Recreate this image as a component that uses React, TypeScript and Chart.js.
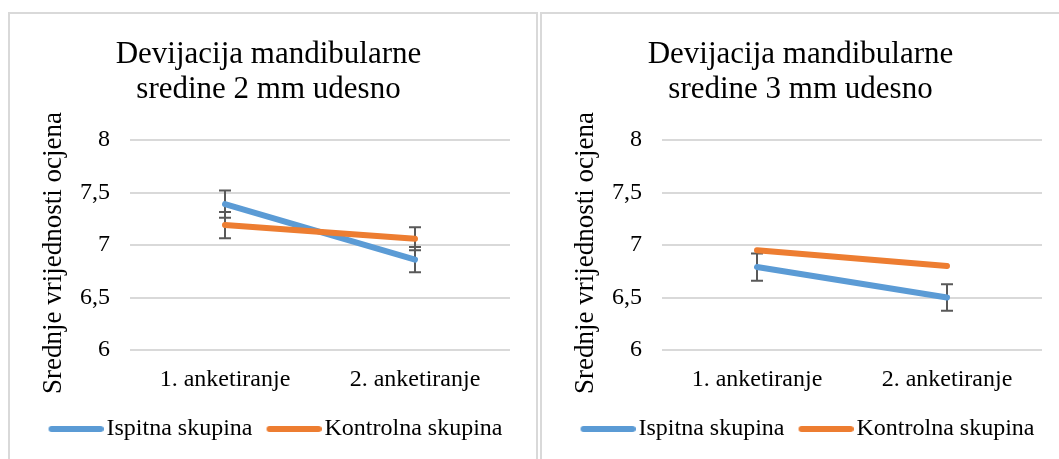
import React, { useEffect, useRef } from 'react';
import { Chart, registerables } from 'chart.js';

Chart.register(...registerables);

const categories = ['1. anketiranje', '2. anketiranje'];
const seriesNames = ['Ispitna skupina', 'Kontrolna skupina'];
const seriesColors = ['#5B9BD5', '#ED7D31'];
const yTickLabels = ['6', '6,5', '7', '7,5', '8'];
const yAxisTitle = 'Srednje vrijednosti ocjena';

const chart1Title = ['Devijacija mandibularne', 'sredine 2 mm udesno'];
const chart1Ispitna = [7.39, 6.86];
const chart1Kontrolna = [7.19, 7.06];
const chart1IspitnaErr = [0.13, 0.12];
const chart1KontrolnaErr = [0.125, 0.11];

const chart2Title = ['Devijacija mandibularne', 'sredine 3 mm udesno'];
const chart2Ispitna = [6.79, 6.5];
const chart2Kontrolna = [6.95, 6.8];
const chart2IspitnaErr = [0.13, 0.127];
const chart2KontrolnaErr = [0, 0];

const FONT = "'Liberation Serif', 'Times New Roman', serif";
const CANVAS_W = 526;
const CANVAS_H = 447;
const LEGEND_BOX = 60;

const errorBarPlugin = {
  id: 'errorBars',
  beforeDatasetsDraw(chart: any) {
    const { ctx } = chart;
    const yScale = chart.scales.y;
    chart.data.datasets.forEach((ds: any, di: number) => {
      const errs: number[] | undefined = ds.errorBars;
      if (!errs) return;
      const meta = chart.getDatasetMeta(di);
      meta.data.forEach((pt: any, i: number) => {
        const e = errs[i];
        const v = ds.data[i];
        if (!e) return;
        const x = pt.x;
        const yT = yScale.getPixelForValue(v + e);
        const yB = yScale.getPixelForValue(v - e);
        ctx.save();
        ctx.strokeStyle = '#595959';
        ctx.lineWidth = 2;
        ctx.beginPath();
        ctx.moveTo(x, yT);
        ctx.lineTo(x, yB);
        ctx.moveTo(x - 6, yT);
        ctx.lineTo(x + 6, yT);
        ctx.moveTo(x - 6, yB);
        ctx.lineTo(x + 6, yB);
        ctx.stroke();
        ctx.restore();
      });
    });
  },
};

// moves the (centred) y-axis title slightly lower, as in the original
const yTitleShiftPlugin = {
  id: 'yTitleShift',
  afterLayout(chart: any) {
    const s = chart.scales.y;
    s.top += 8;
    s.bottom += 8;
  },
};

// legend symbol: a thick round-capped line that ends just before the label text
function makeLegendLine(color: string) {
  const c = document.createElement('canvas');
  c.width = LEGEND_BOX + 18;
  c.height = 8;
  const g = c.getContext('2d')!;
  g.strokeStyle = color;
  g.lineWidth = 6;
  g.lineCap = 'round';
  g.beginPath();
  g.moveTo(LEGEND_BOX + 15 - 49, 4);
  g.lineTo(LEGEND_BOX + 15, 4);
  g.stroke();
  return c;
}

function LineChart(props: {
  title: string[];
  ispitna: number[];
  kontrolna: number[];
  ispitnaErr: number[];
  kontrolnaErr: number[];
}) {
  const ref = useRef<HTMLCanvasElement>(null);
  useEffect(() => {
    if (!ref.current) return;
    const legendImgs = seriesColors.map((c) => makeLegendLine(c));
    const chart = new Chart(ref.current, {
      type: 'line',
      data: {
        labels: categories,
        datasets: [
          {
            label: seriesNames[0],
            data: props.ispitna,
            errorBars: props.ispitnaErr,
            borderColor: seriesColors[0],
            backgroundColor: seriesColors[0],
            borderWidth: 6,
            borderCapStyle: 'round',
            pointRadius: 0,
            pointHoverRadius: 0,
            fill: false,
            tension: 0,
            order: 1,
          } as any,
          {
            label: seriesNames[1],
            data: props.kontrolna,
            errorBars: props.kontrolnaErr,
            borderColor: seriesColors[1],
            backgroundColor: seriesColors[1],
            borderWidth: 6,
            borderCapStyle: 'round',
            pointRadius: 0,
            pointHoverRadius: 0,
            fill: false,
            tension: 0,
            order: 0,
          } as any,
        ],
      },
      options: {
        animation: false,
        responsive: false,
        devicePixelRatio: 1,
        events: [],
        layout: { padding: { left: 0, right: 9, top: 0, bottom: 10 } },
        plugins: {
          title: {
            display: true,
            text: props.title,
            color: '#000',
            font: { family: FONT, size: 31, weight: 'normal', lineHeight: 35 / 31 },
            padding: { top: 23, bottom: 33 },
          },
          legend: {
            display: true,
            position: 'bottom',
            align: 'center',
            labels: {
              usePointStyle: true,
              pointStyleWidth: LEGEND_BOX,
              boxWidth: LEGEND_BOX,
              boxHeight: 8,
              padding: 0,
              color: '#000',
              font: { family: FONT, size: 24 },
              generateLabels: (ch: any) =>
                ch.data.datasets.map((ds: any, i: number) => ({
                  text: ds.label,
                  pointStyle: legendImgs[i],
                  fillStyle: ds.borderColor,
                  strokeStyle: ds.borderColor,
                  lineWidth: 0,
                  hidden: false,
                  datasetIndex: i,
                })),
            },
          },
          tooltip: { enabled: false },
        },
        scales: {
          x: {
            type: 'category',
            offset: true,
            grid: { display: false, drawTicks: false },
            border: { display: false },
            ticks: { color: '#000', font: { family: FONT, size: 24 }, padding: 15 },
            afterFit: (s: any) => {
              s.height = 67;
            },
          },
          y: {
            type: 'linear',
            min: 6,
            max: 8,
            ticks: {
              stepSize: 0.5,
              color: '#000',
              font: { family: FONT, size: 24 },
              padding: 20,
              callback: (_v: any, i: number) => yTickLabels[i],
            },
            grid: { color: '#d9d9d9', lineWidth: 2, drawTicks: false },
            border: { display: false },
            title: {
              display: true,
              text: yAxisTitle,
              color: '#000',
              font: { family: FONT, size: 27 },
              padding: { top: 28, bottom: 0 },
            },
            afterFit: (s: any) => {
              s.width = 120;
            },
          },
          // empty spacer on the right of the plot area
          yRight: {
            type: 'linear',
            position: 'right',
            display: true,
            grid: { display: false, drawTicks: false },
            border: { display: false },
            ticks: { display: false },
            afterFit: (s: any) => {
              s.width = 17;
            },
          },
        },
      } as any,
      plugins: [errorBarPlugin, yTitleShiftPlugin],
    });
    return () => chart.destroy();
  }, []);
  return (
    <canvas
      ref={ref}
      width={CANVAS_W}
      height={CANVAS_H}
      style={{ display: 'block', width: CANVAS_W, height: CANVAS_H }}
    />
  );
}

const boxStyle = (left: number): React.CSSProperties => ({
  position: 'fixed',
  left,
  top: 12,
  width: CANVAS_W,
  height: 470,
  border: '2px solid #d9d9d9',
  background: '#fff',
  overflow: 'hidden',
});

export default function App() {
  return (
    <div>
      <div style={boxStyle(8)}>
        <LineChart
          title={chart1Title}
          ispitna={chart1Ispitna}
          kontrolna={chart1Kontrolna}
          ispitnaErr={chart1IspitnaErr}
          kontrolnaErr={chart1KontrolnaErr}
        />
      </div>
      <div style={boxStyle(540)}>
        <LineChart
          title={chart2Title}
          ispitna={chart2Ispitna}
          kontrolna={chart2Kontrolna}
          ispitnaErr={chart2IspitnaErr}
          kontrolnaErr={chart2KontrolnaErr}
        />
      </div>
    </div>
  );
}
